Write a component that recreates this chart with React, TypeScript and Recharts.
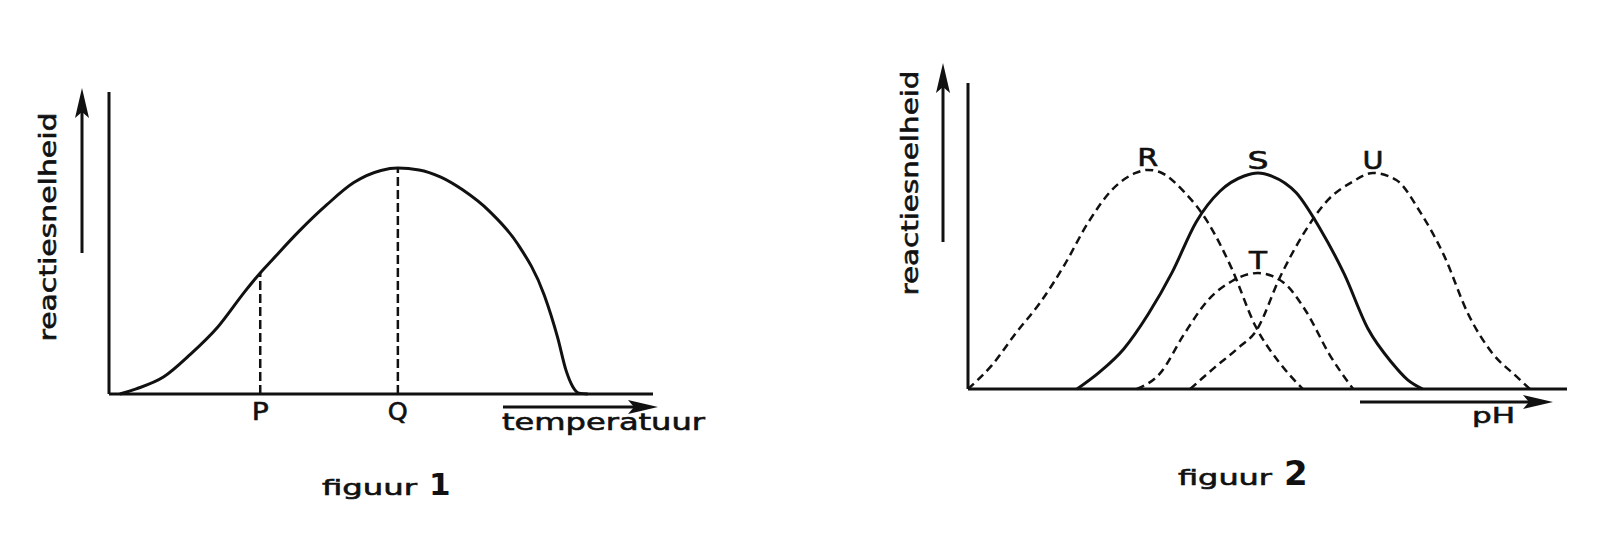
import React from 'react'
import { LineChart, Line, XAxis, YAxis, ReferenceLine, ReferenceDot } from 'recharts'

// figuur 1: reactiesnelheid tegen temperatuur (willekeurige eenheden, 0-100)
const temperatureCurve = [
  { x: 2.0, y: 0 },
  { x: 5.0, y: 1.7 },
  { x: 10.0, y: 5.6 },
  { x: 15.0, y: 13.2 },
  { x: 20.0, y: 22.2 },
  { x: 25.0, y: 34.0 },
  { x: 27.8, y: 40.1 },
  { x: 30.0, y: 44.4 },
  { x: 35.0, y: 54.0 },
  { x: 40.0, y: 62.6 },
  { x: 45.0, y: 70.0 },
  { x: 50.0, y: 74.0 },
  { x: 53.1, y: 74.8 },
  { x: 57.0, y: 74.2 },
  { x: 61.0, y: 71.8 },
  { x: 65.0, y: 67.6 },
  { x: 70.0, y: 60.4 },
  { x: 75.0, y: 50.0 },
  { x: 80.0, y: 32.8 },
  { x: 82.5, y: 18.5 },
  { x: 84.0, y: 7.9 },
  { x: 85.2, y: 2.6 },
  { x: 86.4, y: 0.3 },
  { x: 88.0, y: 0 },
]
const temperatureMarks = [
  { label: 'P', x: 27.8, y: 40.1 },
  { label: 'Q', x: 53.1, y: 74.8 },
]

// figuur 2: reactiesnelheid tegen pH voor vier enzymen
const enzymeR = [
  { x: 0, y: 0 },
  { x: 4.0, y: 7.8 },
  { x: 8.0, y: 18.3 },
  { x: 12.0, y: 28.1 },
  { x: 16.0, y: 40.2 },
  { x: 20.0, y: 54.2 },
  { x: 24.0, y: 65.0 },
  { x: 28.0, y: 70.6 },
  { x: 30.0, y: 71.6 },
  { x: 32.0, y: 70.9 },
  { x: 36.0, y: 64.6 },
  { x: 40.0, y: 54.6 },
  { x: 44.0, y: 39.5 },
  { x: 48.0, y: 20.5 },
  { x: 52.0, y: 8.6 },
  { x: 55.9, y: 0 },
]
const enzymeS = [
  { x: 18.2, y: 0 },
  { x: 22.0, y: 5.6 },
  { x: 26.0, y: 13.1 },
  { x: 30.1, y: 24.5 },
  { x: 34.1, y: 38.2 },
  { x: 38.1, y: 54.6 },
  { x: 42.1, y: 64.7 },
  { x: 46.1, y: 69.6 },
  { x: 48.4, y: 70.6 },
  { x: 50.7, y: 69.6 },
  { x: 54.8, y: 64.1 },
  { x: 58.8, y: 52.3 },
  { x: 62.8, y: 37.6 },
  { x: 66.8, y: 19.6 },
  { x: 70.8, y: 8.5 },
  { x: 73.4, y: 3.0 },
  { x: 75.9, y: 0 },
]
const enzymeT = [
  { x: 28.2, y: 0 },
  { x: 32.1, y: 5.2 },
  { x: 36.1, y: 18.0 },
  { x: 40.1, y: 29.1 },
  { x: 44.1, y: 35.3 },
  { x: 48.4, y: 37.9 },
  { x: 52.6, y: 34.9 },
  { x: 56.4, y: 25.5 },
  { x: 60.4, y: 11.1 },
  { x: 64.3, y: 0 },
]
const enzymeU = [
  { x: 37.1, y: 0 },
  { x: 41.1, y: 6.9 },
  { x: 45.1, y: 13.4 },
  { x: 48.2, y: 19.3 },
  { x: 52.1, y: 36.6 },
  { x: 56.1, y: 51.0 },
  { x: 60.1, y: 61.8 },
  { x: 64.1, y: 67.6 },
  { x: 67.6, y: 70.6 },
  { x: 71.5, y: 68.3 },
  { x: 75.5, y: 57.8 },
  { x: 79.5, y: 43.5 },
  { x: 83.5, y: 24.5 },
  { x: 87.5, y: 11.8 },
  { x: 91.5, y: 4.2 },
  { x: 93.8, y: 0 },
]
const enzymes = [
  { name: 'R', data: enzymeR, dashed: true },
  { name: 'S', data: enzymeS, dashed: false },
  { name: 'T', data: enzymeT, dashed: true },
  { name: 'U', data: enzymeU, dashed: true },
]

const INK = '#111'
const FONT = '"DejaVu Sans", sans-serif'
const W = 1614
const H = 538

// plot area of each figure in page pixels
const fig1 = { box: 0, boxWidth: 720, left: 109, top: 92, right: 653, bottom: 394 }
const fig2 = { box: 860, boxWidth: 754, left: 968, top: 83, right: 1567, bottom: 389 }
const Y_AXIS_W = 60
const X_AXIS_H = 30

const marginOf = (f: typeof fig1) => ({
  top: f.top,
  left: f.left - f.box - Y_AXIS_W,
  right: f.box + f.boxWidth - f.right,
  bottom: H - f.bottom - X_AXIS_H,
})

const peakOf = (data: { x: number; y: number }[]) =>
  data.reduce((best, p) => (p.y > best.y ? p : best), data[0])

// slightly heavier, wider lettering like the printed original
const stretched = {
  fontFamily: FONT,
  fill: INK,
  stroke: INK,
  strokeWidth: 0.6,
  lengthAdjust: 'spacingAndGlyphs' as const,
}

const LetterTick = (props: any) => {
  const { x, y, payload } = props
  const mark = temperatureMarks.find((m) => m.x === payload.value)
  if (!mark) return null
  return (
    <text
      {...stretched}
      x={x}
      y={y + 26}
      textAnchor="middle"
      style={{ fontSize: 25 }}
      textLength={mark.label === 'Q' ? 20 : 17}
    >
      {mark.label}
    </text>
  )
}

const Arrow = ({ x1, y1, x2, y2 }: { x1: number; y1: number; x2: number; y2: number }) => {
  const len = Math.hypot(x2 - x1, y2 - y1)
  const ux = (x2 - x1) / len
  const uy = (y2 - y1) / len
  const head = 30
  const half = 7
  const bx = x2 - ux * head
  const by = y2 - uy * head
  const nx = x2 - ux * (head - 6)
  const ny = y2 - uy * (head - 6)
  const pts = [
    [x2, y2],
    [bx - uy * half, by + ux * half],
    [nx, ny],
    [bx + uy * half, by - ux * half],
  ]
  return (
    <g>
      <line x1={x1} y1={y1} x2={nx} y2={ny} stroke={INK} strokeWidth={3} />
      <polygon points={pts.map((p) => p.join(',')).join(' ')} fill={INK} />
    </g>
  )
}

const axisLine = { stroke: INK, strokeWidth: 3 }

const Figure1 = () => (
  <LineChart width={fig1.boxWidth} height={H} margin={marginOf(fig1)}>
    <XAxis
      type="number"
      dataKey="x"
      domain={[0, 100]}
      allowDataOverflow
      height={X_AXIS_H}
      axisLine={axisLine}
      tickLine={false}
      tickSize={0}
      tickMargin={0}
      ticks={temperatureMarks.map((m) => m.x)}
      tick={<LetterTick />}
      interval={0}
    />
    <YAxis type="number" domain={[0, 100]} width={Y_AXIS_W} axisLine={axisLine} tick={false} tickLine={false} />
    {temperatureMarks.map((m) => (
      <ReferenceLine
        key={m.label}
        segment={[{ x: m.x, y: 0 }, { x: m.x, y: m.y }]}
        stroke={INK}
        strokeWidth={2.5}
        strokeDasharray="9 4"
      />
    ))}
    <Line
      data={temperatureCurve}
      dataKey="y"
      type="monotone"
      stroke={INK}
      strokeWidth={3}
      dot={false}
      isAnimationActive={false}
    />
  </LineChart>
)

const Figure2 = () => (
  <LineChart width={fig2.boxWidth} height={H} margin={marginOf(fig2)}>
    <XAxis
      type="number"
      dataKey="x"
      domain={[0, 100]}
      allowDataOverflow
      height={X_AXIS_H}
      axisLine={axisLine}
      tick={false}
      tickLine={false}
    />
    <YAxis type="number" domain={[0, 100]} width={Y_AXIS_W} axisLine={axisLine} tick={false} tickLine={false} />
    {enzymes.map((e) => (
      <Line
        key={e.name}
        data={e.data}
        dataKey="y"
        name={e.name}
        type="monotone"
        stroke={INK}
        strokeWidth={e.dashed ? 2.5 : 3}
        strokeDasharray={e.dashed ? '8 5' : undefined}
        dot={false}
        isAnimationActive={false}
      />
    ))}
    {enzymes.map((e) => {
      const peak = peakOf(e.data)
      return (
        <ReferenceDot
          key={'lbl' + e.name}
          x={peak.x}
          y={peak.y}
          r={1}
          fill="none"
          stroke="none"
          label={{
            content: (p: any) => {
              const vb = p.viewBox || {}
              return (
                <text
                  {...stretched}
                  x={vb.x + (vb.width || 0) / 2}
                  y={vb.y - 3}
                  textAnchor="middle"
                  fontSize={24}
                  textLength={e.name === 'T' ? 18 : 21}
                >
                  {e.name}
                </text>
              )
            },
          }}
        />
      )
    })}
  </LineChart>
)

const Decorations = () => (
  <svg width={W} height={H} style={{ position: 'absolute', left: 0, top: 0, pointerEvents: 'none' }}>
    {/* figuur 1 */}
    <Arrow x1={fig1.left - 27} y1={fig1.top + 161} x2={fig1.left - 27} y2={fig1.top - 4} />
    <text
      {...stretched}
      fontSize={23}
      textLength={229}
      textAnchor="middle"
      dominantBaseline="central"
      transform={`translate(${fig1.left - 61},${fig1.top + 135}) rotate(-90)`}
    >
      reactiesnelheid
    </text>
    <Arrow x1={fig1.right - 150} y1={fig1.bottom + 13} x2={fig1.right + 5} y2={fig1.bottom + 13} />
    <text {...stretched} x={fig1.right - 151} y={fig1.bottom + 36} fontSize={23} textLength={203}>
      temperatuur
    </text>
    <text {...stretched} x={322} y={495} fontSize={22} textLength={95}>
      figuur
    </text>
    <text x={429} y={495} fontFamily={FONT} fontWeight="bold" fontSize={31} fill={INK}>
      1
    </text>

    {/* figuur 2 */}
    <Arrow x1={fig2.left - 25} y1={fig2.top + 159} x2={fig2.left - 25} y2={fig2.top - 20} />
    <text
      {...stretched}
      fontSize={23}
      textLength={225}
      textAnchor="middle"
      dominantBaseline="central"
      transform={`translate(${fig2.left - 58},${fig2.top + 100}) rotate(-90)`}
    >
      reactiesnelheid
    </text>
    <Arrow x1={fig2.right - 207} y1={fig2.bottom + 13} x2={fig2.right - 14} y2={fig2.bottom + 13} />
    <text {...stretched} x={fig2.right - 95} y={fig2.bottom + 34} fontSize={21} textLength={43}>
      pH
    </text>
    <text {...stretched} x={1178} y={485} fontSize={22} textLength={94}>
      figuur
    </text>
    <text x={1284} y={485} fontFamily={FONT} fontWeight="bold" fontSize={34} fill={INK}>
      2
    </text>
  </svg>
)

export default function App() {
  return (
    <div style={{ position: 'absolute', left: 0, top: 0, width: W, height: H, background: '#fff' }}>
      <div style={{ position: 'absolute', left: fig1.box, top: 0 }}>
        <Figure1 />
      </div>
      <div style={{ position: 'absolute', left: fig2.box, top: 0 }}>
        <Figure2 />
      </div>
      <Decorations />
    </div>
  )
}
